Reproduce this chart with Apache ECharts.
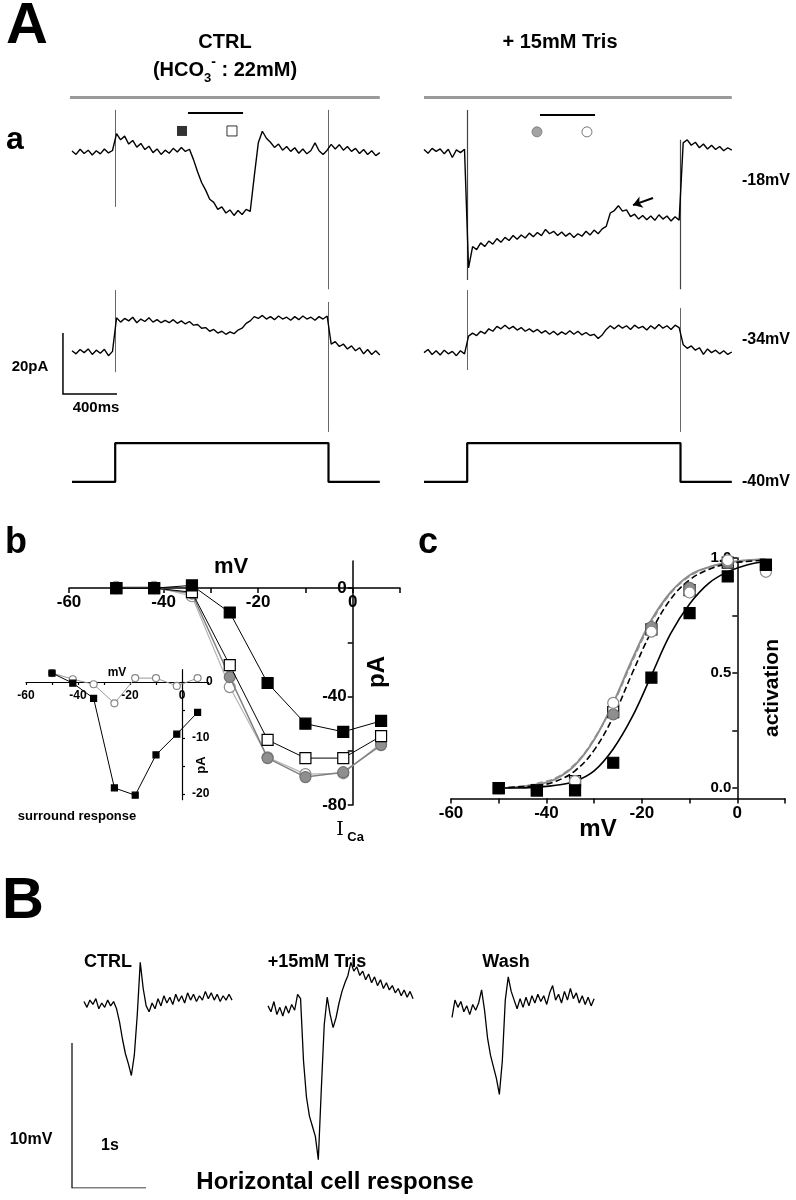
<!DOCTYPE html>
<html><head><meta charset="utf-8">
<script src="https://cdn.jsdelivr.net/npm/echarts@6/dist/echarts.min.js"></script>
<style>html,body{margin:0;padding:0;background:#fff}#c{width:796px;height:1200px}</style>
</head><body><div id="c"></div>
<script>
// ================= DATA =================
// Panel A: whole-cell currents (pA relative to holding), sampled every 30 ms
const A_DT = 30;
const ctrlTrace18 = [0.3,-0.8,0.9,-0.5,0.6,-1.0,0.4,-0.6,1.0,-0.3,0.5,
 6.0,4.0,5.2,2.6,3.8,1.6,2.8,0.8,1.9,-0.2,1.0,-0.8,0.6,-0.4,1.2,0.0,1.5,0.2,0.9,
 -2.5,-6.5,-10.0,-12.5,-15.5,-16.5,-18.8,-18.0,-20.0,-19.0,-20.8,-19.2,-20.5,-18.8,-19.5,
 -8.0,3.0,6.8,4.5,3.2,1.5,2.6,0.6,1.8,0.2,1.4,-0.4,1.0,-0.6,0.5,3.0,0.4,-0.8,0.6,
 2.5,1.0,2.4,0.6,1.8,0.2,1.2,-0.5,0.8,-0.8,0.4,-1.2,-0.2];
const trisTrace18 = [0.8,-0.4,1.2,0.2,1.0,-0.6,0.9,-1.8,0.7,-0.2,0.9,
 -38,
 -31.0,-32.0,-29.8,-31.0,-29.2,-30.2,-28.4,-29.6,-28.0,-29.0,-27.4,-28.6,-27.2,-28.2,-26.6,-27.8,-26.4,-27.4,-25.4,-26.8,-26.0,-27.4,-26.2,-27.6,-26.6,-28.0,-26.8,-27.6,-26.0,-27.2,-25.6,-26.8,-25.2,-24.4,
 -20.0,-19.2,-17.6,-19.4,-19.0,-21.2,-20.4,-22.0,-20.8,-22.2,-21.0,-22.4,-20.6,-22.0,-21.0,-22.6,-21.2,-22.4,
 3.0,4.0,2.2,3.2,1.4,2.6,1.0,2.2,0.8,1.8,0.4,1.4,0.6];
const ctrlTrace34 = [0.4,-0.6,0.8,-0.2,1.0,-0.8,0.6,-0.4,0.9,-1.2,0.2,
 11.2,9.8,11.0,10.2,11.4,9.6,10.8,10.0,11.2,9.8,10.6,9.6,10.4,9.6,10.6,9.4,10.2,9.2,10.0,8.8,9.0,7.8,8.0,6.8,7.4,6.2,6.8,5.8,6.6,6.0,7.2,7.8,9.4,10.2,11.6,11.0,12.0,10.8,11.6,10.6,11.8,10.8,11.4,10.4,11.6,10.6,11.8,10.8,11.4,10.4,11.6,10.8,11.8,
 2.6,3.4,1.8,2.6,1.0,2.0,0.4,1.4,-0.6,0.8,-0.8,0.4,-1.0];
const trisTrace34 = [-0.2,0.8,-0.8,0.4,-1.0,0.6,-0.6,0.2,-1.2,0.4,-0.6,
 5.2,6.2,5.4,6.8,6.0,7.6,6.8,8.4,7.6,8.8,7.6,8.4,7.2,8.0,6.8,7.6,6.6,7.4,6.2,7.0,5.8,6.8,5.6,6.6,5.8,7.0,5.8,6.8,5.6,6.4,5.4,5.8,4.4,5.6,7.4,8.6,7.6,8.8,7.8,8.6,7.4,8.8,7.8,8.4,7.2,8.6,7.6,9.0,7.8,8.6,7.4,8.8,8.0,
 2.4,1.2,2.0,0.6,1.4,-0.8,1.0,-0.2,0.6,-0.6,0.4,-0.8,0.0];
// capacitive transients: [time ms, top pA, bottom pA]
const spikesCtrl18 = [[320,13.8,-18],[1900,13.8,-45]];
const spikesTris18 = [[320,13.8,-42],[1900,4,-45]];
const spikesCtrl34 = [[320,20.3,-6.6],[1900,16.4,-26.2]];
const spikesTris34 = [[320,20.3,-5.9],[1900,14.4,-26.2]];
// voltage protocol (ms, mV)
const stepProtocol = [[0,-40],[320,-40],[320,-18],[1900,-18],[1900,-40],[2280,-40]];
// measurement window (ms) and marker times
const windowBar = [859,1267];
const markerTimes = [815,1185];
const stimBarSpan = [-15,2280];
const arrowFromTo = [[1696,-15.1],[1548,-17.4]];
const scaleBarA = [400,20]; // ms, pA

// Panel b: I-V (mV, pA)
const ivVoltage = [-50,-42,-34,-26,-18,-10,-2,6];
const ivCtrlFilled = [0,0,1,-9,-35,-50,-53,-49];
const ivCtrlOpen = [0,0,-1.5,-28.4,-56,-62.7,-62.7,-54.6];
const ivTrisGray = [0,0,-2,-32.8,-62.7,-69.7,-67.9,-57.9];
const ivTrisOpen = [0.5,0.5,-3,-36.5,-62.4,-68.6,-68.3,-57.2];
// inset: surround response (pA)
const surroundSquares = [1.6,-0.2,-2.9,-18.9,-20.2,-13,-9.3,-5.4];
const surroundCircles = [1.6,0.5,-0.4,-3.8,0.7,0.7,-0.7,0.7];

// Panel c: activation
const actVoltage = [-50,-42,-34,-26,-18,-10,-2,6];
const actCtrlFilled = [0.0,-0.01,-0.01,0.11,0.48,0.76,0.92,0.97];
const actCtrlOpen = [0.0,-0.01,0.03,0.33,0.69,0.86,0.98,0.97];
const actTrisGray = [0.0,-0.01,0.03,0.32,0.70,0.87,0.98,0.96];
const actTrisOpen = [0.0,-0.01,0.03,0.37,0.68,0.85,0.99,0.94];
const fitVoltage = [-50,-46,-42,-38,-34,-30,-26,-22,-18,-14,-10,-6,-2,2,6];
const fitCtrl = [0.0,0.0,0.004,0.012,0.03,0.075,0.17,0.31,0.49,0.67,0.80,0.89,0.94,0.97,0.985];
const fitCtrlOpen = [0.0,0.005,0.01,0.03,0.075,0.165,0.31,0.50,0.68,0.82,0.905,0.95,0.975,0.985,0.99];
const fitTrisGray = [0.0,0.005,0.015,0.04,0.10,0.21,0.37,0.56,0.73,0.85,0.925,0.96,0.98,0.99,0.995];
const fitTrisOpen = [0.0,0.005,0.02,0.045,0.105,0.215,0.365,0.55,0.72,0.845,0.92,0.96,0.98,0.99,0.995];

// Panel B: horizontal cell responses (mV relative to rest), sampled every 0.04 s
const B_DT = 0.04;
const hcCtrl = [0.1,-0.3,0.2,-0.1,0.3,-0.4,0.0,-0.3,0.2,-0.2,0.1,
 -0.4,-1.3,-2.5,-3.5,-4.2,-5.0,-3.6,-0.8,2.8,
 1.0,-0.2,-0.6,0.0,-0.4,0.3,-0.2,0.5,0.0,0.4,-0.1,0.6,0.1,0.5,0.0,0.7,0.2,0.6,0.1,0.5,0.2,0.8,0.3,0.7,0.2,0.6,0.1,0.5,0.2,0.6,0.2];
const hcTris = [-0.2,-0.6,0.1,-0.8,-0.3,-0.9,-0.2,-0.7,-0.1,-0.5,0.6,0.3,
 -4.0,-6.5,-7.8,-8.5,-9.2,-10.8,-6.0,-1.5,0.4,-0.8,-1.7,-1.0,0.0,0.8,1.4,1.9,2.8,2.2,2.5,1.9,2.2,1.6,2.0,1.4,1.8,1.2,1.6,1.0,1.4,0.9,1.2,0.7,1.0,0.5,0.9,0.4,0.8,0.3];
const hcWash = [-1.0,0.2,-0.3,0.1,-0.6,-0.2,-0.8,-0.1,-0.5,0.0,0.9,-0.5,
 -2.4,-3.6,-4.4,-5.2,-6.3,-4.0,0.2,1.8,
 0.8,0.2,-0.4,0.3,-0.3,0.4,-0.2,0.5,0.0,0.6,0.1,0.5,-0.1,0.7,1.2,0.2,0.6,0.0,0.8,0.2,1.0,0.3,0.7,0.0,0.5,-0.1,0.4,-0.2,0.3];
const scaleBarB = [1,10]; // s, mV

// tick / label values
const ivXTicks = [-60,-50,-40,-30,-20,-10,0,10];
const ivXLabels = [-60,-40,-20,0];
const ivYTicks = [-80,-60,-40,-20,0];
const ivYLabels = [-80,-40,0];
const insetYTicks = [-20,-15,-10,-5,0];
const insetYLabels = [-20,-10,0];
const actYTicks = [0,0.25,0.5,0.75,1.0];
const actYLabels = [0,0.5,1.0];

// ================= BUILD =================
const FF = 'Liberation Sans, Arial, sans-serif';
const xy = (vals, dt) => vals.map((v,i)=>[+(i*dt).toFixed(3), v]);
const zip = (xs, ys) => xs.map((x,i)=>[x, ys[i]]);
const K = 0.135; // px per ms in A

const grids = [
 {left:72-80*K, top:91, width:2360*K, height:213.5},   // 0 A left row -18
 {left:424, top:91, width:2280*K, height:213.5},        // 1 A right row -18
 {left:72-80*K, top:260.5, width:2360*K, height:183},   // 2 A left row -34
 {left:424, top:260.5, width:2280*K, height:183},       // 3 A right row -34
 {left:72-80*K, top:439.5, width:2360*K, height:46},    // 4 step left
 {left:424, top:439.5, width:2280*K, height:46},        // 5 step right
 {left:69, top:561, width:331, height:244},             // 6 b main
 {left:26, top:669.7, width:182, height:130},           // 7 b inset
 {left:451, top:558, width:334, height:240.4},          // 8 c
 {left:84, top:945, width:148, height:232},             // 9 B ctrl
 {left:268, top:945, width:148, height:232},            // 10 B tris
 {left:452, top:945, width:148, height:232},            // 11 B wash
 {left:72, top:1043, width:74, height:145},             // 12 B scale
 {left:69, top:561, width:331, height:27},              // 13 b x-axis (bottom edge = 0 pA)
 {left:352.7, top:561, width:47.3, height:244},         // 14 b y-axis (left edge = 0 mV)
 {left:26, top:669.7, width:182, height:12.3},          // 15 inset x-axis
 {left:26, top:669.7, width:156, height:130},           // 16 inset y-axis (right edge = 0 mV)
 {left:737.3, top:558, width:47.7, height:240.4}        // 17 c y-axis (left edge = 0 mV)
].map(g=>Object.assign({containLabel:false, outerBoundsMode:'none', show:false}, g));

const hid = (g,min,max)=>({type:'value', gridIndex:g, min, max, show:false, splitLine:{show:false}});
const visAxis = (g, min, max, position, ticks, labels, size, tickLen, lw, margin, fmt, rich) => ({
  type:'value', gridIndex:g, min, max, position,
  axisLine:{show:true, onZero:false, lineStyle:{color:'#000', width:lw}},
  axisTick:{show:true, customValues:ticks, length:tickLen, inside:false, lineStyle:{color:'#000', width:lw}},
  axisLabel:{show:true, customValues:labels, color:'#000', fontWeight:'bold', fontSize:size, fontFamily:FF,
    margin, formatter: fmt || (v=>String(v)), rich: rich || {}},
  splitLine:{show:false}, minorTick:{show:false}});

const xAxes = [
 hid(0,-80,2280), hid(1,0,2280), hid(2,-80,2280), hid(3,0,2280), hid(4,-80,2280), hid(5,0,2280),
 hid(6,-60,10), hid(7,-60,10),
 visAxis(8,-60,10,'bottom', ivXTicks, ivXLabels, 17, 5, 1.5, 6),
 hid(9,0,2.0), hid(10,0,2.0), hid(11,0,2.0), hid(12,0,1),
 visAxis(13,-60,10,'bottom', ivXTicks, ivXLabels, 17, 5, 1.5, 6),
 hid(14,0,1),
 visAxis(15,-60,10,'bottom', ivXTicks, ivXLabels, 12, 3, 1.2, 8),
 hid(16,0,1),
 hid(17,0,1)
];
const yAxes = [
 hid(0,-50,20), hid(1,-50,20), hid(2,-30,30), hid(3,-30,30), hid(4,-42,-16), hid(5,-42,-16),
 hid(6,-80,10), hid(7,-21,2.2), hid(8,-0.045,1.0),
 hid(9,-12,4), hid(10,-12,4), hid(11,-12,4), hid(12,0,10),
 hid(13,0,1),
 visAxis(14,-80,10,'left', ivYTicks, ivYLabels, 17, 5, 1.5, 6),
 hid(15,0,1),
 visAxis(16,-21,2.2,'right', insetYTicks, insetYLabels, 12, 3, 1.2, 10,
   v => v===0 ? '{z|0}' : String(v),
   {z:{padding:[0,0,0,14], fontSize:12, fontWeight:'bold', fontFamily:FF, color:'#000'}}),
 visAxis(17,-0.045,1.0,'left', actYTicks, actYLabels, 15, 5, 1.5, 6, v=>v.toFixed(1))
];

const series = [];
const trace = (g, data, w) => series.push({type:'line', xAxisIndex:g, yAxisIndex:g, data, showSymbol:false, symbol:'none',
  lineStyle:{color:'#000', width:w||1}, silent:true});
const segs = (g, list, color, width, extra) => series.push(Object.assign({type:'lines', coordinateSystem:'cartesian2d',
  xAxisIndex:g, yAxisIndex:g, data:list.map(c=>({coords:c})), lineStyle:{color, width, opacity:1, curveness:0}, silent:true}, extra||{}));
const spikeSegs = sp => sp.map(s=>[[s[0],s[1]],[s[0],s[2]]]);

// Panel A
trace(0, xy(ctrlTrace18, A_DT), 1.4);
trace(1, xy(trisTrace18, A_DT), 1.4);
trace(2, xy(ctrlTrace34, A_DT), 1.4);
trace(3, xy(trisTrace34, A_DT), 1.4);
segs(0, spikeSegs(spikesCtrl18), '#666', 1);
segs(1, spikeSegs(spikesTris18), '#444', 1.2);
segs(2, spikeSegs(spikesCtrl34), '#666', 1);
segs(3, spikeSegs(spikesTris34), '#666', 1);
trace(4, stepProtocol, 2.2);
trace(5, stepProtocol, 2.2);
segs(0, [[[stimBarSpan[0],18],[stimBarSpan[1],18]]], '#9a9a9a', 3);
segs(1, [[[0,18],[stimBarSpan[1],18]]], '#9a9a9a', 3);
segs(0, [[[windowBar[0],12.8],[windowBar[1],12.8]]], '#000', 2);
segs(1, [[[windowBar[0],12.1],[windowBar[1],12.1]]], '#000', 2);
segs(1, [arrowFromTo], '#000', 2, {symbol:['none','arrow'], symbolSize:9});
series.push({type:'scatter', xAxisIndex:0, yAxisIndex:0, data:[[markerTimes[0],6.9]], symbol:'rect', symbolSize:10, itemStyle:{color:'#000'}, silent:true});
series.push({type:'scatter', xAxisIndex:0, yAxisIndex:0, data:[[markerTimes[1],6.9]], symbol:'rect', symbolSize:10, itemStyle:{color:'#fff', borderColor:'#000', borderWidth:1}, silent:true});
series.push({type:'scatter', xAxisIndex:1, yAxisIndex:1, data:[[markerTimes[0]+22,6.6]], symbol:'circle', symbolSize:10, itemStyle:{color:'#8c8c8c', borderColor:'#777', borderWidth:1}, silent:true});
series.push({type:'scatter', xAxisIndex:1, yAxisIndex:1, data:[[markerTimes[1]+22,6.6]], symbol:'circle', symbolSize:10, itemStyle:{color:'#fff', borderColor:'#555', borderWidth:1}, silent:true});
// scale bar A (in left -34 row)
segs(2, [[[-67,6.2],[-67,6.2-scaleBarA[1]],[-67+scaleBarA[0],6.2-scaleBarA[1]]]], '#000', 1.5, {polyline:true});

// Panel b
const ivLine = (g, ys, sym, size, fill, border, lineColor, lw, z) => series.push({type:'line', xAxisIndex:g, yAxisIndex:g,
  data:zip(ivVoltage, ys), symbol:sym, symbolSize:size, showSymbol:true,
  itemStyle:{color:fill, borderColor:border, borderWidth:1.2, opacity:1},
  lineStyle:{color:lineColor, width:lw}, z, silent:true});
ivLine(6, ivTrisOpen, 'circle', 11, '#fff', '#8a8a8a', '#b5b5b5', 1.2, 2);
ivLine(6, ivTrisGray, 'circle', 11, '#8f8f8f', '#707070', '#808080', 1.5, 3);
ivLine(6, ivCtrlOpen, 'rect', 11, '#fff', '#000', '#000', 1, 4);
ivLine(6, ivCtrlFilled, 'rect', 11, '#000', '#000', '#000', 1, 5);
ivLine(7, surroundCircles, 'circle', 7, '#fff', '#888', '#999', 1, 3);
ivLine(7, surroundSquares, 'rect', 6, '#000', '#000', '#000', 1, 4);

// Panel c
const fit = (ys, color, type, w) => series.push({type:'line', xAxisIndex:8, yAxisIndex:8, data:zip(fitVoltage, ys),
  smooth:0.4, showSymbol:false, symbol:'none', lineStyle:{color, type, width:w}, silent:true, z:2});
fit(fitTrisOpen, '#9a9a9a', 'dashed', 1.6);
fit(fitTrisGray, '#8c8c8c', 'solid', 2);
fit(fitCtrlOpen, '#000', 'dashed', 1.6);
fit(fitCtrl, '#000', 'solid', 1.6);
const act = (ys, sym, fill, border, z) => series.push({type:'scatter', xAxisIndex:8, yAxisIndex:8, data:zip(actVoltage, ys),
  symbol:sym, symbolSize:11, itemStyle:{color:fill, borderColor:border, borderWidth:1.2, opacity:1}, z, silent:true});
act(actCtrlOpen, 'rect', '#fff', '#000', 3);
act(actTrisGray, 'circle', '#8f8f8f', '#707070', 4);
act(actTrisOpen, 'circle', '#fff', '#888', 5);
act(actCtrlFilled, 'rect', '#000', '#000', 6);

// Panel B
trace(9, xy(hcCtrl, B_DT), 1.3);
trace(10, xy(hcTris, B_DT), 1.3);
trace(11, xy(hcWash, B_DT), 1.3);
segs(12, [[[0,scaleBarB[1]],[0,0],[scaleBarB[0],0]]], '#000', 1.2, {polyline:true});

// Text
const T = (text, x, y, size, extra) => Object.assign({type:'text', x, y, silent:true, z:100,
  style:{text, fill:'#000', font:'bold '+size+'px '+FF, fontWeight:'bold', fontSize:size, fontFamily:FF,
    textAlign:'center', textVerticalAlign:'middle', align:'center', verticalAlign:'middle'}}, extra||{});
const graphics = [
 T('A', 27, 27, 58),
 T('CTRL', 225, 42, 20),
 {type:'text', x:225, y:70, silent:true, style:{text:'{a|(HCO}{s|3}{p|-}{a| : 22mM)}', align:'center', verticalAlign:'middle', textAlign:'center', textVerticalAlign:'middle',
   rich:{a:{fontSize:20, fontWeight:'bold', fontFamily:FF, fill:'#000', color:'#000', lineHeight:30, verticalAlign:'middle'},
         s:{fontSize:13, fontWeight:'bold', fontFamily:FF, fill:'#000', color:'#000', lineHeight:14, verticalAlign:'bottom'},
         p:{fontSize:14, fontWeight:'bold', fontFamily:FF, fill:'#000', color:'#000', lineHeight:14, verticalAlign:'top'}}}},
 T('+ 15mM Tris', 560, 42, 20),
 T('a', 15, 140, 32),
 T('-18mV', 766, 181, 16),
 T('-34mV', 766, 340, 16),
 T('-40mV', 766, 482, 16),
 T('20pA', 30, 367, 15),
 T('400ms', 96, 408, 15),
 T('b', 16, 543, 36),
 T('c', 428, 543, 36),
 T('mV', 231, 567, 22),
 T('pA', 377, 672, 24, {rotation:Math.PI/2}),
 {type:'text', x:350, y:830, silent:true, style:{text:'{i|I}{s| Ca}', align:'center', verticalAlign:'middle', textAlign:'center', textVerticalAlign:'middle',
   rich:{i:{fontSize:19, fontFamily:'DejaVu Serif, serif', fill:'#000', color:'#000', lineHeight:28, verticalAlign:'middle'},
         s:{fontSize:13, fontWeight:'bold', fontFamily:FF, fill:'#000', color:'#000', lineHeight:13, verticalAlign:'bottom'}}}},
 T('mV', 117, 673, 12),
 T('pA', 201, 765, 13, {rotation:Math.PI/2}),
 T('surround response', 77, 816, 13),
 T('mV', 598, 829, 24),
 T('activation', 772, 688, 21, {rotation:Math.PI/2}),
 T('B', 23, 902, 58),
 T('CTRL', 108, 962, 18),
 T('+15mM Tris', 317, 962, 18),
 T('Wash', 506, 962, 18),
 T('10mV', 31, 1140, 16),
 T('1s', 110, 1146, 16),
 T('Horizontal cell response', 335, 1182, 24)
];

const chart = echarts.init(document.getElementById('c'), null, {renderer:'canvas', width:796, height:1200});
chart.setOption({
  animation:false, backgroundColor:'#fff',
  textStyle:{fontFamily:FF},
  grid:grids, xAxis:xAxes, yAxis:yAxes, series, graphic:graphics
});
</script></body></html>
